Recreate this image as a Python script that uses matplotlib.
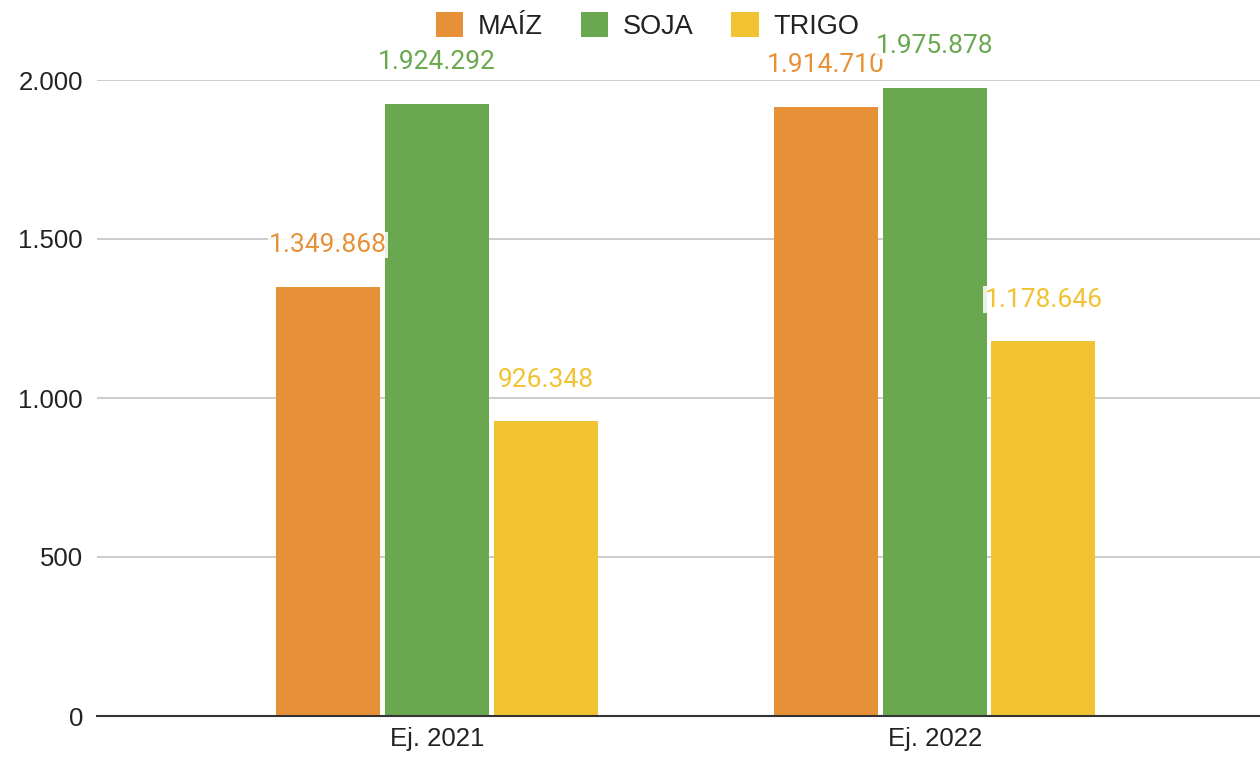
import matplotlib
matplotlib.use("Agg")
import matplotlib.pyplot as plt
import numpy as np

categories = ["Ej. 2021", "Ej. 2022"]
series_names = ["MAÍZ", "SOJA", "TRIGO"]
maiz = [1349.868, 1914.710]
soja = [1924.292, 1975.878]
trigo = [926.348, 1178.646]
value_labels = [["1.349.868", "1.914.710"],
                ["1.924.292", "1.975.878"],
                ["926.348", "1.178.646"]]

colors = ["#E69138", "#6AA84F", "#F1C232"]

plt.rcParams['font.family'] = ['Liberation Sans', 'DejaVu Sans']

fig = plt.figure(figsize=(12.6, 7.57), dpi=100)
ax = fig.add_axes([97 / 1260, 1 - 716 / 757, (1260 - 97) / 1260, 636 / 757])

x = np.arange(len(categories))
width = 0.209
offsets = [-0.219, 0.0, 0.218]
data = [maiz, soja, trigo]

for j, (vals, name) in enumerate(zip(data, series_names)):
    bars = ax.bar(x + offsets[j], vals, width=width, color=colors[j], label=name, zorder=2)
    for b, lab in zip(bars, value_labels[j]):
        ax.annotate(lab, (b.get_x() + b.get_width() / 2, b.get_height()),
                    xytext=(0, 30), textcoords="offset points", ha="center", va="center",
                    fontsize=19, color=colors[j], family=["Roboto", "DejaVu Sans"],
                    bbox=dict(boxstyle="square,pad=0.05", fc="white", ec="none", alpha=0.85),
                    zorder=4)

ax.set_ylim(0, 2000)
ax.set_xlim(-0.683, 1.653)
ax.set_yticks([0, 500, 1000, 1500, 2000])
ax.set_yticklabels(["0", "500", "1.000", "1.500", "2.000"])
ax.set_xticks(x)
ax.set_xticklabels(categories)
ax.tick_params(axis="both", length=0, labelsize=18.5, labelcolor="#222222")
ax.tick_params(axis="y", pad=10)
ax.tick_params(axis="x", pad=8)
ax.grid(axis="y", color="#c8c8c8", linewidth=1.3, zorder=0)
for s in ["top", "right", "left"]:
    ax.spines[s].set_visible(False)
ax.spines["bottom"].set_color("#333333")
ax.spines["bottom"].set_linewidth(1.5)
ax.spines["bottom"].set_zorder(3)

fig.legend(loc="upper center", bbox_to_anchor=(0.514, 1.016), ncol=3, frameon=False,
           fontsize=19.5, handlelength=1.0, handleheight=1.0, columnspacing=1.4,
           handletextpad=0.55, labelcolor="#222222")

fig.savefig("out.png", dpi=100)
